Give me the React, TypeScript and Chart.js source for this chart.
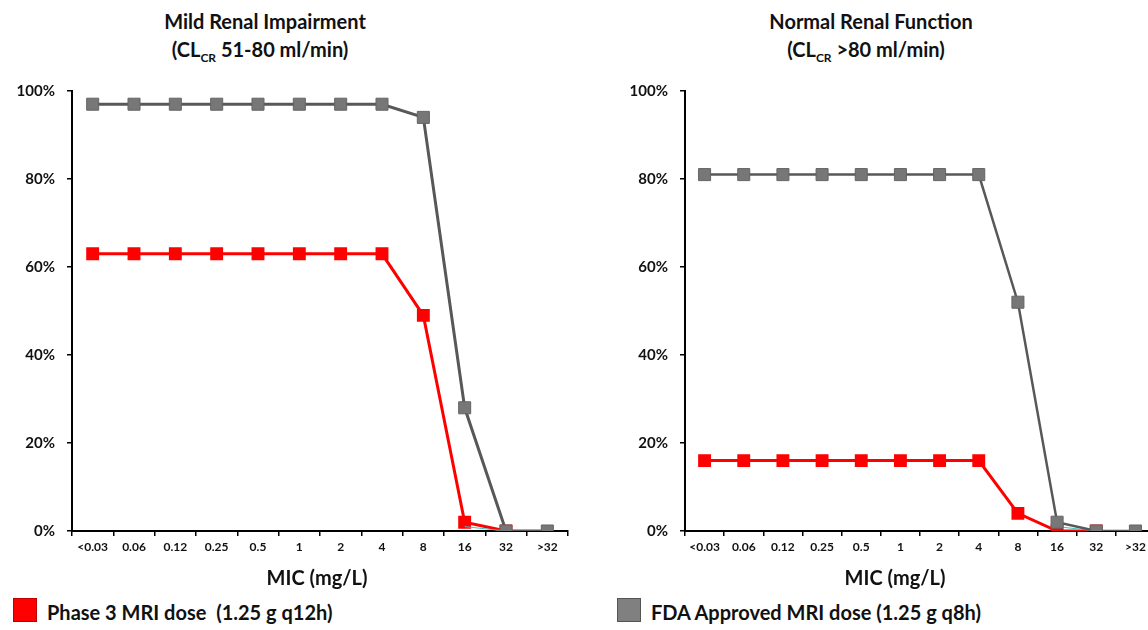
import React, { useEffect, useRef } from 'react';
import { Chart, registerables } from 'chart.js';

Chart.register(...registerables);

// ---- data ----
const categories = ['<0.03', '0.06', '0.12', '0.25', '0.5', '1', '2', '4', '8', '16', '32', '>32'];
const yTickValues = [0, 20, 40, 60, 80, 100];

const mildFdaValues = [97, 97, 97, 97, 97, 97, 97, 97, 94, 28, 0, 0];
const mildPhase3Values = [63, 63, 63, 63, 63, 63, 63, 63, 49, 2, 0, null];
const mildTraceValues = [null, null, null, null, null, null, null, null, null, 1, 0, null];

const normalFdaValues = [81, 81, 81, 81, 81, 81, 81, 81, 52, 2, 0, 0];
const normalPhase3Values = [16, 16, 16, 16, 16, 16, 16, 16, 4, 0, 0, null];
const normalTraceValues = [null, null, null, null, null, null, null, null, null, 1, 0, null];

const seriesNames = ['FDA Approved MRI dose (1.25 g q8h)', 'Phase 3 MRI dose  (1.25 g q12h)'];

const FONT = 'Lato, "Open Sans", sans-serif';
const RED = '#ff0000';
const GRAY_FILL = '#777777';
const GRAY_LINE = '#585858';

function makeConfig(fda: (number | null)[], phase3: (number | null)[], trace: (number | null)[], padRight: number, grayLineWidth: number): any {
  return {
    type: 'line',
    data: {
      labels: categories,
      datasets: [
        {
          label: seriesNames[0],
          data: fda,
          borderColor: GRAY_LINE,
          backgroundColor: GRAY_FILL,
          pointBackgroundColor: GRAY_FILL,
          pointBorderColor: '#646464',
          pointBorderWidth: 1,
          borderWidth: grayLineWidth,
          pointStyle: 'rect',
          pointRadius: 8.5,
          order: 0,
        },
        {
          label: 'trace',
          data: trace,
          borderColor: '#3cc4c4',
          borderWidth: 1,
          pointRadius: 0,
          order: 1,
        },
        {
          label: seriesNames[1],
          data: phase3,
          borderColor: RED,
          backgroundColor: RED,
          pointBackgroundColor: RED,
          pointBorderColor: RED,
          borderWidth: 3,
          pointStyle: 'rect',
          pointRadius: 7,
          order: 2,
        },
      ],
    },
    options: {
      responsive: false,
      animation: false,
      devicePixelRatio: 1,
      layout: { padding: { top: 19, right: padRight, bottom: 0, left: 0 } },
      plugins: {
        legend: { display: false },
        title: { display: false },
        tooltip: { enabled: false },
      },
      scales: {
        x: {
          type: 'category',
          offset: true,
          afterFit: (s: any) => { s.height = 39; },
          border: { display: true, color: '#000', width: 2 },
          grid: {
            display: true,
            offset: true,
            drawOnChartArea: false,
            drawTicks: true,
            tickLength: 5,
            color: '#000',
            lineWidth: 1.5,
          },
          ticks: {
            color: '#111',
            padding: 4,
            maxRotation: 0,
            autoSkip: false,
            font: { family: FONT, size: 12, weight: 'bold' },
          },
        },
        y: {
          min: 0,
          max: 100,
          afterFit: (s: any) => { s.width = 72; },
          afterBuildTicks: (s: any) => { s.ticks = yTickValues.map((v) => ({ value: v })); },
          border: { display: true, color: '#000', width: 2 },
          grid: {
            display: true,
            drawOnChartArea: false,
            drawTicks: true,
            tickLength: 5,
            color: '#000',
            lineWidth: 1.5,
          },
          ticks: {
            color: '#111',
            padding: 12,
            callback: (v: any) => v + '%',
            font: { family: FONT, size: 15, weight: 'bold' },
          },
        },
      },
    },
  };
}

function ChartCanvas(props: { left: number; top: number; width: number; height: number; config: any }) {
  const ref = useRef<HTMLCanvasElement | null>(null);
  useEffect(() => {
    if (!ref.current) return;
    const chart = new Chart(ref.current, props.config);
    return () => chart.destroy();
  }, []);
  return (
    <canvas
      ref={ref}
      width={props.width}
      height={props.height}
      style={{ position: 'absolute', left: props.left, top: props.top, width: props.width, height: props.height }}
    />
  );
}

function Text(props: { cx: number; top: number; size: number; children: any }) {
  return (
    <div
      style={{
        position: 'absolute',
        left: props.cx - 250,
        top: props.top,
        width: 500,
        textAlign: 'center',
        fontFamily: FONT,
        fontWeight: 'bold',
        fontSize: props.size,
        lineHeight: 1,
        color: '#111',
        whiteSpace: 'nowrap',
      }}
    >
      {props.children}
    </div>
  );
}

function Sub(props: { children: any }) {
  return <span style={{ fontSize: 12, position: 'relative', top: 5 }}>{props.children}</span>;
}

function LegendItem(props: { left: number; fill: string; border: string; text: string }) {
  return (
    <div style={{ position: 'absolute', left: props.left, top: 598, height: 24, display: 'flex', alignItems: 'center' }}>
      <div style={{ width: 22, height: 22, background: props.fill, border: '1px solid ' + props.border }} />
      <div
        style={{
          marginLeft: 10,
          fontFamily: FONT,
          fontWeight: 'bold',
          fontSize: 20,
          color: '#111',
          whiteSpace: 'pre',
          position: 'relative',
          top: 2,
        }}
      >
        {props.text}
      </div>
    </div>
  );
}

export default function App() {
  return (
    <div style={{ position: 'fixed', left: 0, top: 0, width: 1148, height: 630, overflow: 'hidden', background: '#fff' }}>
      <Text cx={265} top={11} size={20}>Mild Renal Impairment</Text>
      <Text cx={260} top={39} size={20}>(CL<Sub>CR</Sub> 51-80 ml/min)</Text>
      <Text cx={871} top={11} size={20}>Normal Renal Function</Text>
      <Text cx={866} top={39} size={20}>(CL<Sub>CR</Sub> &gt;80 ml/min)</Text>

      <ChartCanvas left={0} top={70} width={580} height={500} config={makeConfig(mildFdaValues, mildPhase3Values, mildTraceValues, 12, 3)} />
      <ChartCanvas left={613} top={70} width={560} height={500} config={makeConfig(normalFdaValues, normalPhase3Values, normalTraceValues, 18, 2.5)} />

      <Text cx={317} top={567} size={20}>MIC (mg/L)</Text>
      <Text cx={895} top={567} size={20}>MIC (mg/L)</Text>

      <LegendItem left={13} fill={RED} border="#c00000" text={seriesNames[1]} />
      <LegendItem left={617} fill="#808080" border="#555555" text={seriesNames[0]} />
    </div>
  );
}
